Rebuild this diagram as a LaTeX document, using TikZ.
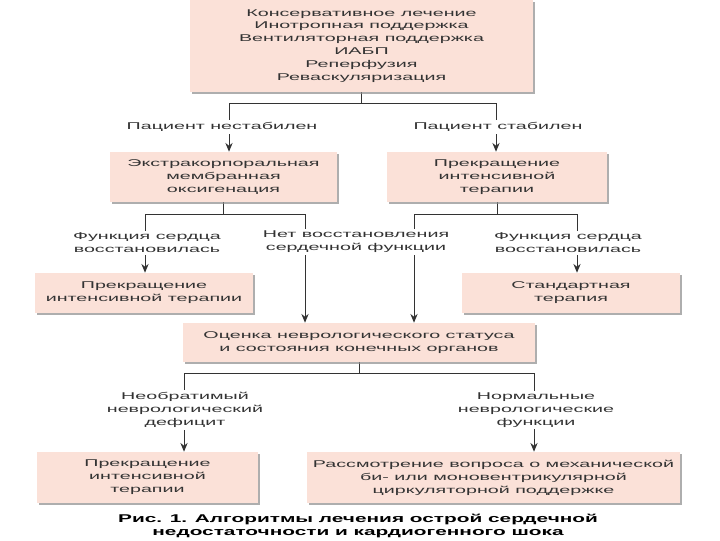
\documentclass[tikz,border=0pt]{standalone}
\usepackage{fontspec}
\setmainfont{Liberation Sans}[FakeStretch=2.0]
\newfontfamily\capfont{Liberation Sans}[FakeStretch=1.85]
\usetikzlibrary{arrows.meta, positioning, shadows, backgrounds}
\definecolor{boxpink}{HTML}{FBE1D8}
\definecolor{inkgray}{HTML}{333333}

\begin{document}
\begin{tikzpicture}[x=0.025cm, y=-0.025cm,
  box/.style={rectangle, fill=boxpink, align=center, inner sep=0pt,
              font=\fontsize{7}{9.2}\selectfont, text=inkgray,
              drop shadow={shadow xshift=0.6mm, shadow yshift=-0.6mm,
                           fill=black!45, opacity=0.7}},
  lbl/.style={fill=white, align=center, inner sep=1.5pt,
              font=\fontsize{7}{9.2}\selectfont, text=inkgray},
  link/.style={draw=black!80, line width=0.6pt},
  arr/.style={link, -{Stealth[length=2.2mm, width=1.8mm]}},
]
\useasboundingbox (0,0) rectangle (720,540);

% ---- blocks ----
\node[box, minimum width=8.575cm, minimum height=2.3cm] (top) at (361.5,46)
  {Консервативное лечение\\Инотропная поддержка\\Вентиляторная поддержка\\ИАБП\\Реперфузия\\Реваскуляризация};

\node[box, minimum width=5.675cm, minimum height=1.25cm] (ecmo) at (223.5,177)
  {Экстракорпоральная\\мембранная\\оксигенация};
\node[box, minimum width=5.5cm, minimum height=1.25cm] (stopA) at (497,177)
  {Прекращение\\интенсивной\\терапии};

\node[box, minimum width=5.45cm, minimum height=1cm] (stopB) at (144,293)
  {Прекращение\\интенсивной терапии};
\node[box, minimum width=5.45cm, minimum height=1cm] (std) at (571,293)
  {Стандартная\\терапия};

\node[box, minimum width=8.8cm, minimum height=0.975cm] (ocenka) at (359,342.5)
  {Оценка неврологического статуса\\и состояния конечных органов};

\node[box, minimum width=5.525cm, minimum height=1.275cm] (stopC) at (147.5,477.5)
  {Прекращение\\интенсивной\\терапии};
\node[box, minimum width=9.325cm, minimum height=1.275cm] (mcs) at (493.5,477.5)
  {Рассмотрение вопроса о механической\\би- или моновентрикулярной\\циркуляторной поддержке};

% ---- branch points ----
\coordinate (uL) at (229,103);
\coordinate (uR) at (496,103);
\coordinate (a1) at (145,214);
\coordinate (a2) at (305,214);
\coordinate (b1) at (414,214);
\coordinate (b2) at (577,214);
\coordinate (c1) at (184,373);
\coordinate (c2) at (534,373);

% ---- connectors ----
\begin{scope}[on background layer]
\draw[link] (top.south) -- (top.south |- uL);
\draw[link] (uL) -- (uR);
\draw[arr] (uL) -- (uL |- ecmo.north);
\draw[arr] (uR) -- (uR |- stopA.north);

\draw[link] (ecmo.south) -- (ecmo.south |- a1);
\draw[link] (a1) -- (a2);
\draw[arr] (a1) -- (a1 |- stopB.north);
\draw[arr] (a2) -- (a2 |- ocenka.north);

\draw[link] (stopA.south) -- (stopA.south |- b1);
\draw[link] (b1) -- (b2);
\draw[arr] (b1) -- (b1 |- ocenka.north);
\draw[arr] (b2) -- (b2 |- std.north);

\draw[link] (ocenka.south) -- (ocenka.south |- c1);
\draw[link] (c1) -- (c2);
\draw[arr] (c1) -- (c1 |- stopC.north);
\draw[arr] (c2) -- (c2 |- mcs.north);
\end{scope}

% ---- labels ----
\node[lbl] (unstab) at (222,127) {Пациент нестабилен};
\node[lbl] (stab)   at (498,127) {Пациент стабилен};
\node[lbl] (recA)   at (147,243) {Функция сердца\\восстановилась};
\node[lbl] (norec)  at (356,242) {Нет восстановления\\сердечной функции};
\node[lbl] (recB)   at (568,243) {Функция сердца\\восстановилась};
\node[lbl] (irrev)  at (185,410) {Необратимый\\неврологический\\дефицит};
\node[lbl] (normal) at (536,410) {Нормальные\\неврологические\\функции};

% ---- caption ----
\node[align=center, inner sep=0pt, font=\capfont\bfseries\fontsize{8}{9}\selectfont] (cap) at (358,526)
  {Рис. 1. Алгоритмы лечения острой сердечной\\недостаточности и кардиогенного шока};

\end{tikzpicture}
\end{document}
